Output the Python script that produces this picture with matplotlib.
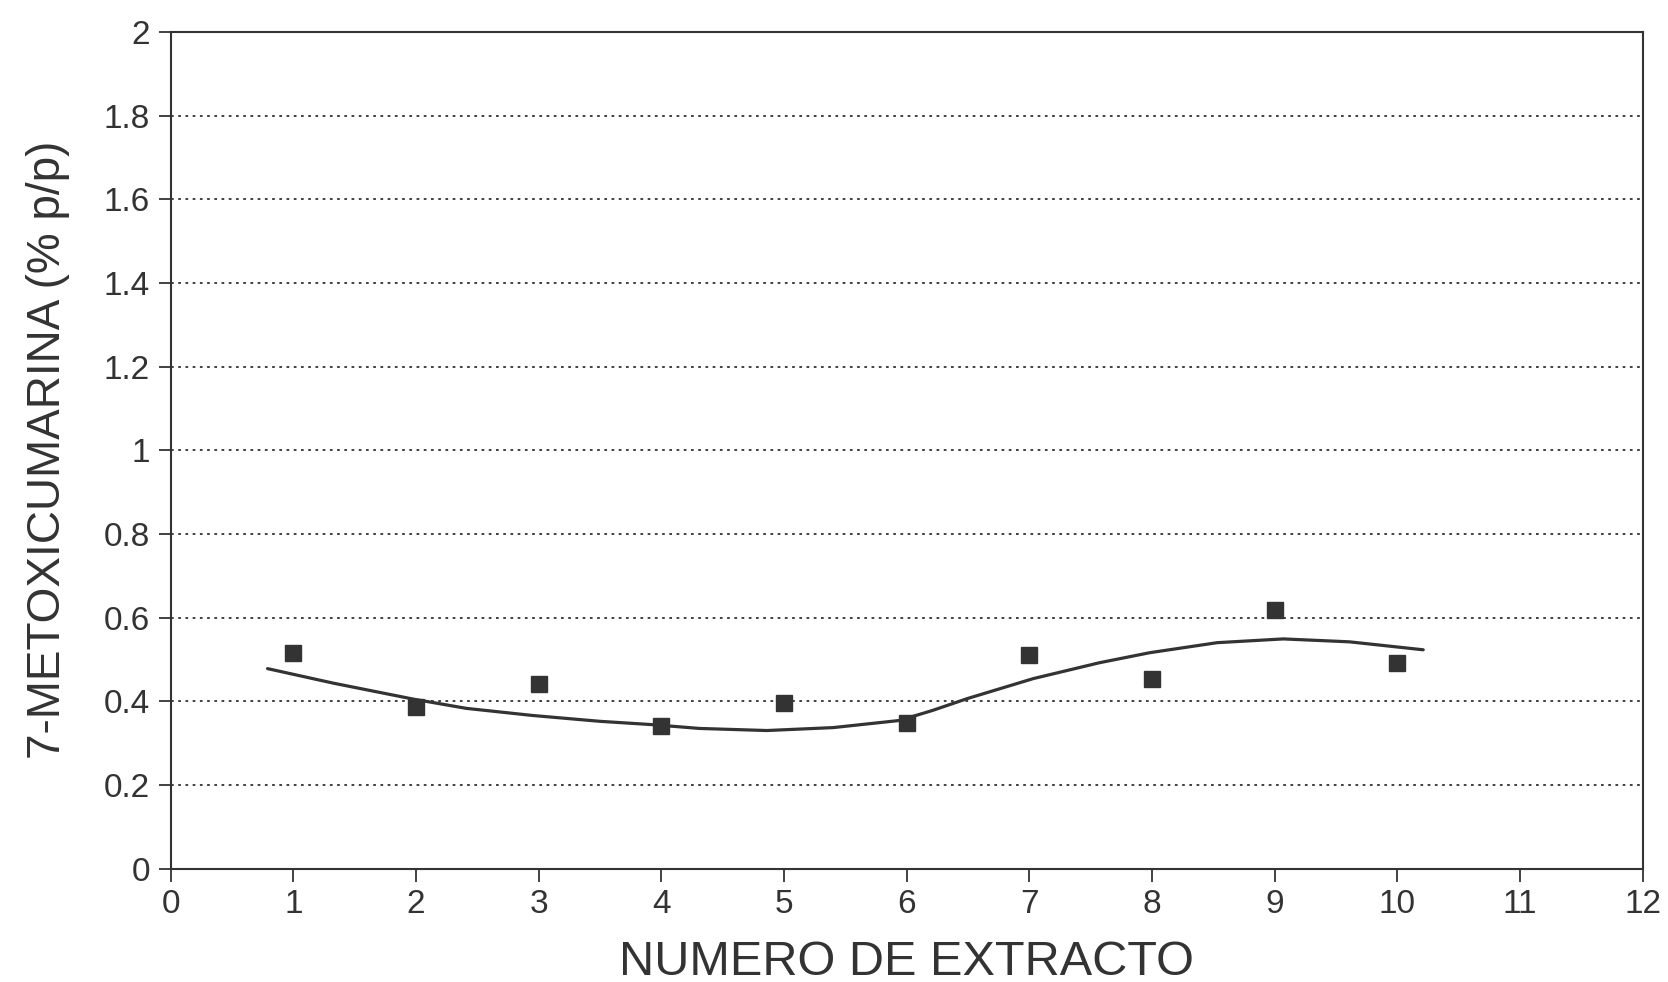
import numpy as np
import matplotlib.pyplot as plt

# values
extracto = [1, 2, 3, 4, 5, 6, 7, 8, 9, 10]
metoxi = [0.516, 0.387, 0.442, 0.342, 0.395, 0.347, 0.511, 0.452, 0.618, 0.492]

# smoothed trend line as drawn in the original
curva_x = [0.79, 1.33, 1.98, 2.41, 2.95, 3.50, 3.93, 4.31, 4.86, 5.40, 5.94,
           6.21, 6.49, 7.03, 7.57, 7.98, 8.53, 9.07, 9.61, 10.21]
curva_y = [0.478, 0.443, 0.405, 0.383, 0.366, 0.352, 0.344, 0.335, 0.330, 0.337, 0.354,
           0.378, 0.406, 0.454, 0.492, 0.516, 0.540, 0.549, 0.542, 0.523]

yticks = [0, 0.2, 0.4, 0.6, 0.8, 1, 1.2, 1.4, 1.6, 1.8, 2]
ytick_labels = ['0', '0.2', '0.4', '0.6', '0.8', '1', '1.2', '1.4', '1.6', '1.8', '2']
xticks = list(range(0, 13))

ink = '#333333'
plt.rcParams['font.family'] = ['Liberation Sans', 'DejaVu Sans']

fig = plt.figure(figsize=(16.68, 9.82), dpi=100)
ax = fig.add_axes([0.1023, 0.1155, 0.8826, 0.852])

ax.plot(curva_x, curva_y, color=ink, lw=2.3, solid_capstyle='round', solid_joinstyle='round')
ax.plot(extracto, metoxi, 's', color=ink, ms=11, mec=ink)

ax.set_xlim(0, 12)
ax.set_ylim(0, 2)
ax.set_xticks(xticks)
ax.set_yticks(yticks)
ax.set_yticklabels(ytick_labels)
for y in yticks[1:-1]:
    ax.axhline(y, color=ink, lw=1.3, ls=(0, (1.5, 2.5)), zorder=0)

for s in ax.spines.values():
    s.set_color(ink)
    s.set_linewidth(1.5)
ax.tick_params(colors=ink, labelsize=24, length=9, width=1.3, pad=6)

ax.set_xlabel('NUMERO DE EXTRACTO', fontsize=35, color=ink, labelpad=14)
ax.set_ylabel('7-METOXICUMARINA (% p/p)', fontsize=33, color=ink, labelpad=24)

plt.savefig('out.png', dpi=100)
plt.close()
